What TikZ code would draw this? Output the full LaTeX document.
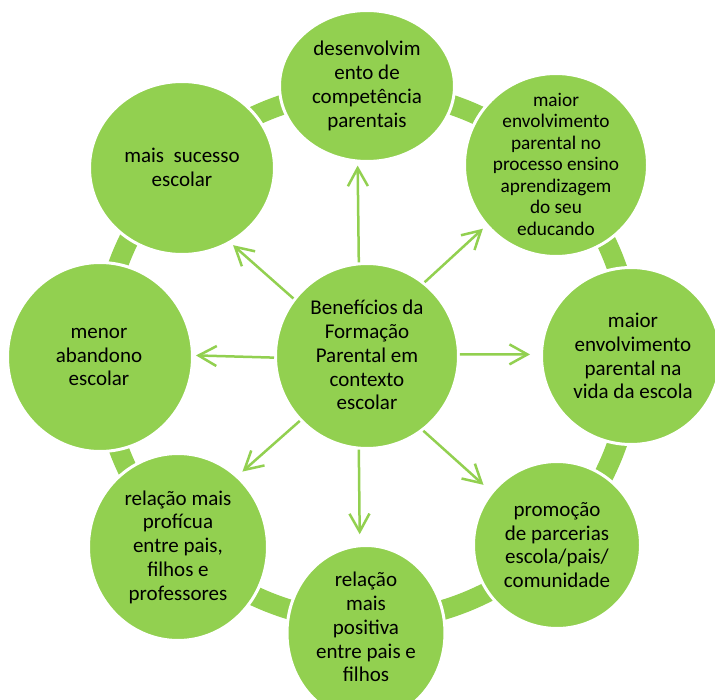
\documentclass[tikz,border=0pt]{standalone}
\usepackage{fontspec}
\setmainfont{Carlito}
\usetikzlibrary{shapes.geometric,arrows.meta}
\definecolor{leaf}{HTML}{92D050}
\tikzset{
  bub/.style={ellipse, fill=leaf, draw=white, line width=3pt, inner sep=0pt},
  txt/.style={align=center, text=black, inner sep=0pt, font=\fontsize{21}{23.8}\selectfont},
  smalltxt/.style={align=center, text=black, inner sep=0pt, font=\fontsize{19.3}{21.5}\selectfont},
  ringline/.style={draw=leaf, line width=20pt},
  arr/.style={draw=leaf, line width=2.5pt, -{Straight Barb[length=18pt,width=20pt]}}
}
\begin{document}
\begin{tikzpicture}[x=1pt,y=1pt]
\clip (0,0) rectangle (715,-700);
\fill[white] (0,0) rectangle (715,-700);
% centre
\node[bub, minimum width=183pt, minimum height=185pt] (c) at (367,-356) {};
% ring behind the outer circles
\draw[ringline] (c.center) circle[radius=265pt];
% outer circles
\node[bub, minimum width=175pt, minimum height=151pt] (t)  at (367,-86)  {};
\node[bub, minimum width=185pt, minimum height=173pt] (tl) at (182,-168) {};
\node[bub, minimum width=183pt, minimum height=183pt] (tr) at (556,-165) {};
\node[bub, minimum width=185pt, minimum height=189pt] (l)  at (100,-357) {};
\node[bub, minimum width=179pt, minimum height=177pt] (r)  at (631,-356) {};
\node[bub, minimum width=179pt, minimum height=187pt] (bl) at (178,-547) {};
\node[bub, minimum width=158pt, minimum height=175pt] (b)  at (366,-633) {};
\node[bub, minimum width=167pt, minimum height=167pt] (br) at (557,-545) {};
% texts
\node[txt] (ct) at (367,-355) {Benefícios da\\Formação\\Parental em\\contexto\\escolar};
\node[txt] (tt) at (367,-86) {desenvolvim\\ento de\\competência\\parentais};
\node[txt] (tlt) at (182,-167) {mais\ \ sucesso\\escolar};
\node[smalltxt] (trt) at (556,-164) {maior\\envolvimento\\parental no\\processo ensino\\aprendizagem\\do seu\\educando};
\node[txt] (lt) at (99,-357) {menor\\abandono\\escolar};
\node[txt] (rt) at (633,-356) {maior\\envolvimento\\parental na\\vida da escola};
\node[txt] (blt) at (178,-547) {relação mais\\profícua\\entre pais,\\filhos e\\professores};
\node[txt] (bt) at (366,-627) {relação\\mais\\positiva\\entre pais e\\filhos};
\node[txt] (brt) at (557,-545) {promoção\\de parcerias\\escola/pais/\\comunidade};
% arrows
\draw[arr, shorten >=3pt] (c.95.6) -- (t.263.3);
\draw[arr, shorten >=3pt] (c.142.3) -- (tl.303.7);
\draw[arr, shorten >=4pt] (c.52.9) -- (tr.221.6);
\draw[arr, shorten >=2pt] (c.181) -- (l.1);
\draw[arr, shorten >=10pt] (c.1) -- (r.179);
\draw[arr, shorten >=6pt] (c.224.6) -- (bl.50);
\draw[arr, shorten >=10pt] (c.265.6) -- (b.94);
\draw[arr, shorten >=10pt] (c.307.9) -- (br.141.6);
\end{tikzpicture}
\end{document}
